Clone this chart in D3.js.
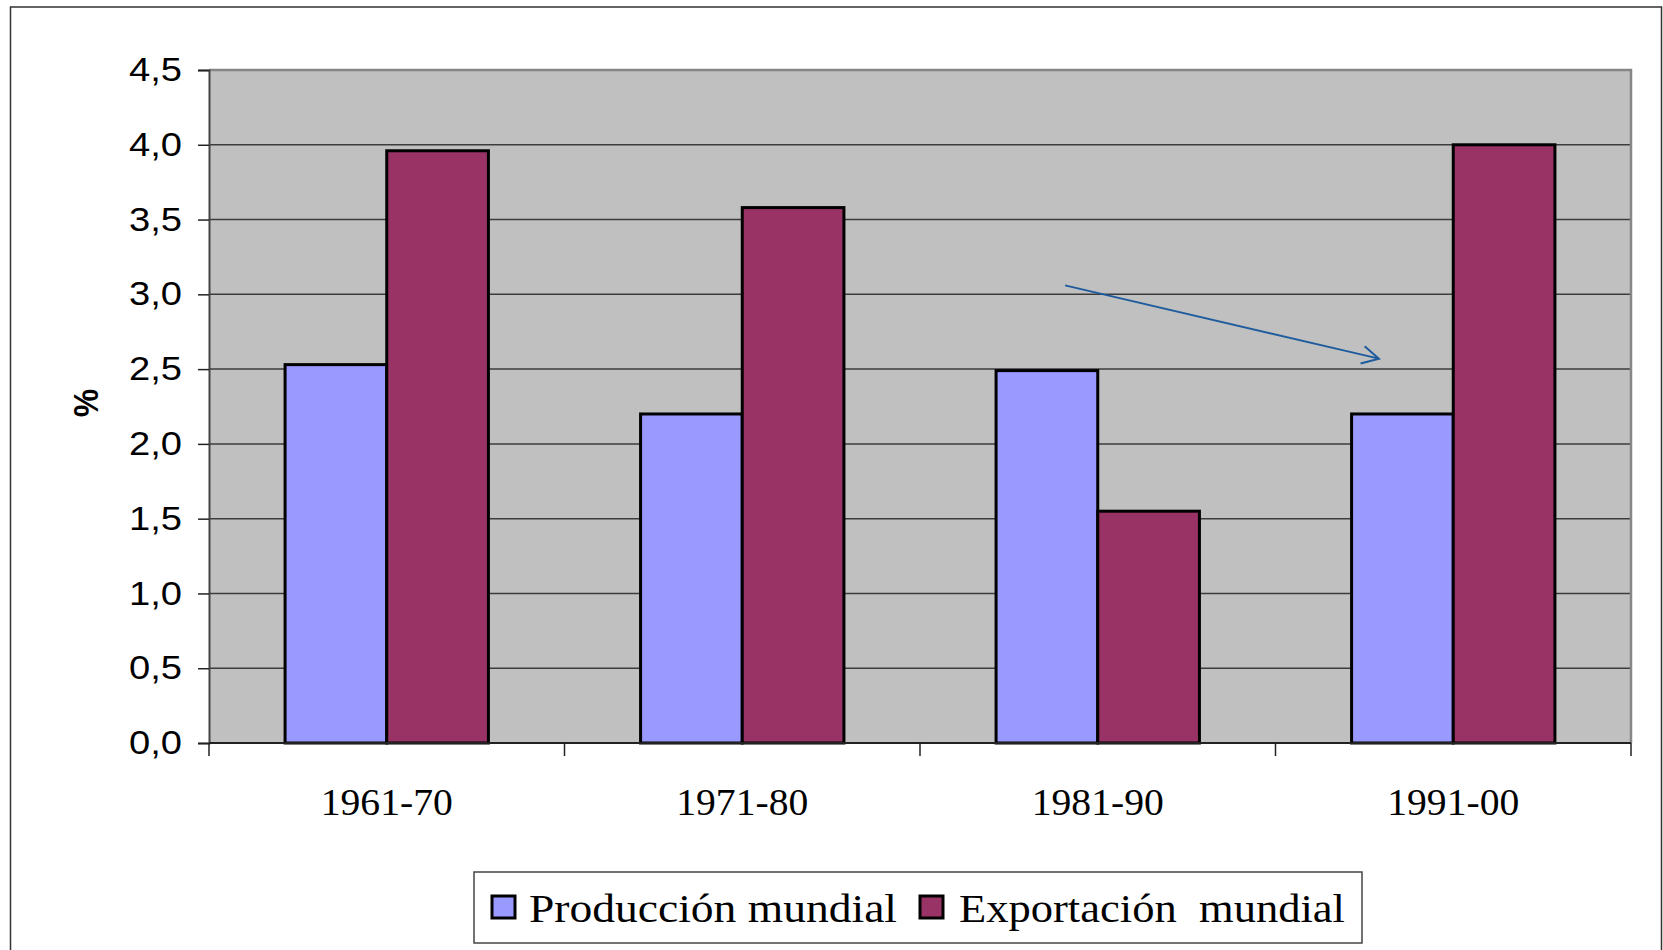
<!DOCTYPE html>
<html>
<head>
<meta charset="utf-8">
<script src="https://cdn.jsdelivr.net/npm/d3@7"></script>
<style>
  html, body { margin: 0; padding: 0; background: #ffffff; }
  svg { display: block; }
</style>
</head>
<body>
<svg id="chart" width="1663" height="950"></svg>
<script>
// ---- data ----
const categories = ["1961-70", "1971-80", "1981-90", "1991-00"];
const seriesNames = ["Producción mundial", "Exportación  mundial"];
const produccion = [2.53, 2.20, 2.49, 2.20];
const exportacion = [3.96, 3.58, 1.55, 4.00];
const yTicks = [0, 0.5, 1, 1.5, 2, 2.5, 3, 3.5, 4, 4.5];
const yTickLabels = ["0,0", "0,5", "1,0", "1,5", "2,0", "2,5", "3,0", "3,5", "4,0", "4,5"];
const yTitle = "%";
// arrow annotation in data coordinates (category index, value)
const arrowFrom = [1.908, 3.06];
const arrowTo = [2.791, 2.57];

// ---- styles ----
const colors = ["#9999ff", "#993366"];
const svg = d3.select("#chart");
const L = 209, R = 1631, T = 70, B = 743;

// outer frame
svg.append("rect").attr("x", 10.5).attr("y", 7).attr("width", 1651).attr("height", 980)
  .attr("fill", "#fff").attr("stroke", "#333").attr("stroke-width", 1.5);

const x = d3.scaleBand().domain(categories).range([L, R]).paddingInner(0).paddingOuter(0);
const y = d3.scaleLinear().domain([0, 4.5]).range([B, T]);
const groupW = x.bandwidth() * 0.572;
const x1 = d3.scaleBand().domain(seriesNames).range([0, groupW]);
const xIdx = d3.scaleLinear().domain([-0.5, categories.length - 0.5]).range([L, R]);

// plot background
svg.append("rect").attr("x", L).attr("y", T).attr("width", R - L).attr("height", B - T)
  .attr("fill", "#c0c0c0");

// gridlines
svg.append("g").selectAll("line").data(yTicks.filter(d => d > 0 && d < 4.5)).join("line")
  .attr("x1", L).attr("x2", R).attr("y1", d => y(d)).attr("y2", d => y(d))
  .attr("stroke", "#3c3c3c").attr("stroke-width", 1.5);

// plot border (top/right gray)
svg.append("path").attr("d", `M${L},${T}H${R}V${B}`).attr("fill", "none")
  .attr("stroke", "#868686").attr("stroke-width", 2.5);

// bars
const rows = categories.map((c, i) => ({ c, vals: [produccion[i], exportacion[i]] }));
const g = svg.append("g");
rows.forEach(r => {
  const x0 = x(r.c) + (x.bandwidth() - groupW) / 2;
  r.vals.forEach((v, j) => {
    g.append("rect")
      .attr("x", x0 + x1(seriesNames[j]))
      .attr("y", y(v))
      .attr("width", x1.bandwidth())
      .attr("height", y(0) - y(v))
      .attr("fill", colors[j])
      .attr("stroke", "#000").attr("stroke-width", 3);
  });
});

// y axis
const yAxis = d3.axisLeft(y).tickValues(yTicks).tickSize(11)
  .tickFormat((d, i) => yTickLabels[i]).tickPadding(16);
const ya = svg.append("g").attr("transform", `translate(${L},0)`).call(yAxis);
ya.select(".domain").attr("stroke", "#444").attr("stroke-width", 2);
ya.selectAll(".tick line").attr("stroke", "#222").attr("stroke-width", 1.5);
ya.selectAll(".tick text").attr("font-family", "'Liberation Sans', Arial, sans-serif")
  .attr("font-size", 33).attr("fill", "#000")
  .attr("textLength", 53).attr("lengthAdjust", "spacingAndGlyphs");

// x axis
const xa = svg.append("g").attr("transform", `translate(0,${B})`);
xa.append("line").attr("x1", L).attr("x2", R).attr("stroke", "#222").attr("stroke-width", 2);
const bounds = categories.map(c => x(c)).concat([R]);
xa.selectAll(".xt").data(bounds).join("line").attr("class", "xt")
  .attr("x1", d => d).attr("x2", d => d).attr("y1", 0).attr("y2", 13)
  .attr("stroke", "#222").attr("stroke-width", 1.5);
xa.selectAll(".xl").data(categories).join("text").attr("class", "xl")
  .attr("x", d => x(d) + x.bandwidth() / 2 - 66).attr("y", 72)
  .attr("font-family", "'Liberation Serif', 'Times New Roman', serif")
  .attr("font-size", 37).attr("fill", "#000")
  .attr("textLength", 132).attr("lengthAdjust", "spacingAndGlyphs")
  .text(d => d);

// y title
svg.append("text").attr("transform", "translate(98,403) rotate(-90) scale(1,1.12)")
  .attr("text-anchor", "middle")
  .attr("font-family", "'Liberation Sans', Arial, sans-serif")
  .attr("font-weight", "bold").attr("font-size", 32).text(yTitle);

// arrow annotation
const ax1 = xIdx(arrowFrom[0]), ay1 = y(arrowFrom[1]);
const ax2 = xIdx(arrowTo[0]), ay2 = y(arrowTo[1]);
const ang = Math.atan2(ay2 - ay1, ax2 - ax1);
const hl = 19, ha = 28 * Math.PI / 180;
const h1 = [ax2 - hl * Math.cos(ang - ha), ay2 - hl * Math.sin(ang - ha)];
const h2 = [ax2 - hl * Math.cos(ang + ha), ay2 - hl * Math.sin(ang + ha)];
svg.append("path")
  .attr("d", `M${ax1},${ay1}L${ax2},${ay2}M${h1[0]},${h1[1]}L${ax2},${ay2}L${h2[0]},${h2[1]}`)
  .attr("fill", "none").attr("stroke", "#1f5c9e").attr("stroke-width", 2);

// legend
const lg = svg.append("g");
lg.append("rect").attr("x", 474).attr("y", 872).attr("width", 888).attr("height", 71)
  .attr("fill", "#fff").attr("stroke", "#444").attr("stroke-width", 1.5);
const legendItems = [
  { sx: 492, tx: 529, tl: 368 },
  { sx: 920, tx: 959, tl: 386 }
];
legendItems.forEach((it, j) => {
  lg.append("rect").attr("x", it.sx).attr("y", 896).attr("width", 23).attr("height", 22)
    .attr("fill", colors[j]).attr("stroke", "#000").attr("stroke-width", 3);
  lg.append("text").attr("x", it.tx).attr("y", 922)
    .attr("font-family", "'Liberation Serif', 'Times New Roman', serif")
    .attr("font-size", 40).attr("fill", "#000")
    .style("white-space", "pre")
    .attr("textLength", it.tl).attr("lengthAdjust", "spacingAndGlyphs")
    .text(seriesNames[j]);
});
</script>
</body>
</html>
